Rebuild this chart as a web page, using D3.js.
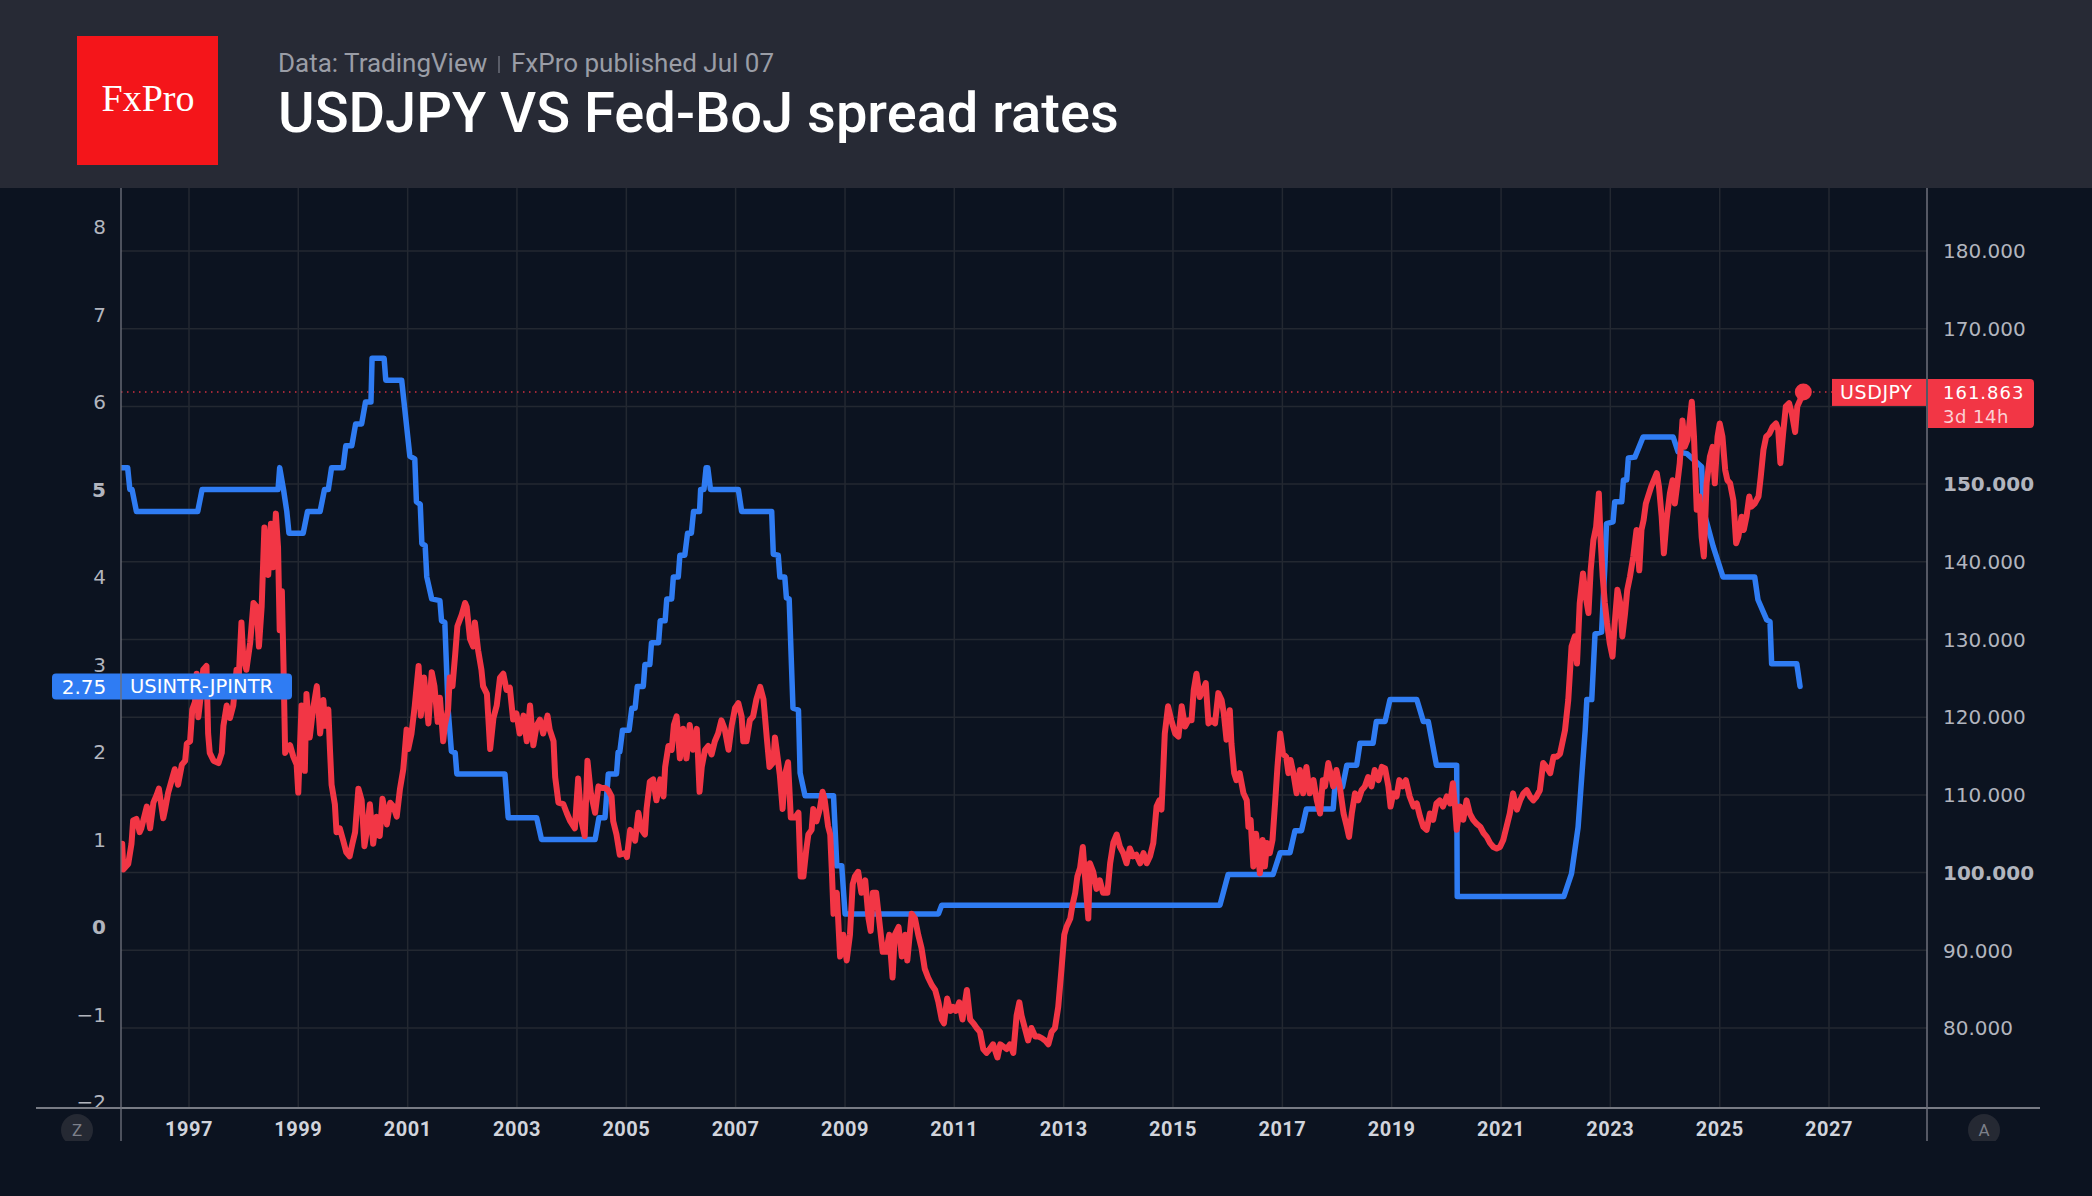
<!DOCTYPE html>
<html>
<head>
<meta charset="utf-8">
<script src="https://cdn.jsdelivr.net/npm/d3@7"></script>
<style>
  html, body { margin: 0; padding: 0; background: #0c1320; }
  svg { display: block; }
</style>
</head>
<body>
<svg id="chart" width="2092" height="1196"></svg>
<script>
// ---- data ----
var yearTicks = [1997, 1999, 2001, 2003, 2005, 2007, 2009, 2011, 2013, 2015, 2017, 2019, 2021, 2023, 2025, 2027];
var spreadTicks = [8, 7, 6, 5, 4, 3, 2, 1, 0, -1, -2];
var priceTicks = [180, 170, 160, 150, 140, 130, 120, 110, 100, 90, 80];
// 160.000 is hidden behind the last-price label in the original
var priceLabels = [180, 170, 150, 140, 130, 120, 110, 100, 90, 80];
var lastSpread = 2.75;
var lastPrice = 161.863;

// USINTR-JPINTR, [decimal year, %]
var spreadData = [
  [1995.78, 5.25], [1995.88, 5.25], [1995.92, 5.0], [1995.96, 5.0], [1996.04, 4.75], [1997.16, 4.75], [1997.24, 5.0],
  [1998.63, 5.0], [1998.66, 5.25], [1998.73, 5.0], [1998.79, 4.75], [1998.83, 4.5], [1999.09, 4.5], [1999.17, 4.75],
  [1999.40, 4.75], [1999.48, 5.0], [1999.55, 5.0], [1999.61, 5.25], [1999.82, 5.25], [1999.87, 5.5], [1999.98, 5.5],
  [2000.05, 5.75], [2000.16, 5.75], [2000.23, 6.0], [2000.33, 6.0], [2000.35, 6.5], [2000.57, 6.5], [2000.60, 6.25],
  [2000.89, 6.25], [2001.04, 5.38], [2001.13, 5.35], [2001.16, 4.86], [2001.23, 4.83], [2001.26, 4.38], [2001.32, 4.36],
  [2001.35, 4.0], [2001.44, 3.75], [2001.59, 3.73], [2001.62, 3.5], [2001.68, 3.48], [2001.74, 2.49], [2001.80, 2.01],
  [2001.87, 1.99], [2001.90, 1.75], [2002.78, 1.75], [2002.84, 1.25], [2003.36, 1.25], [2003.45, 1.0], [2004.43, 1.0],
  [2004.50, 1.25], [2004.61, 1.25], [2004.67, 1.75], [2004.82, 1.75], [2004.85, 2.0], [2004.88, 2.0], [2004.93, 2.25],
  [2005.05, 2.25], [2005.10, 2.5], [2005.16, 2.5], [2005.20, 2.75], [2005.31, 2.75], [2005.34, 3.0], [2005.43, 3.0],
  [2005.46, 3.25], [2005.59, 3.25], [2005.62, 3.5], [2005.71, 3.5], [2005.74, 3.75], [2005.83, 3.75], [2005.86, 4.0],
  [2005.95, 4.0], [2005.98, 4.25], [2006.07, 4.25], [2006.12, 4.5], [2006.19, 4.5], [2006.23, 4.75], [2006.34, 4.75],
  [2006.36, 5.0], [2006.42, 5.0], [2006.46, 5.25], [2006.49, 5.25], [2006.54, 5.0], [2007.05, 5.0], [2007.11, 4.75],
  [2007.66, 4.75], [2007.69, 4.26], [2007.78, 4.25], [2007.81, 4.0], [2007.90, 4.0], [2007.93, 3.76], [2007.98, 3.75],
  [2008.05, 2.5], [2008.15, 2.48], [2008.18, 1.76], [2008.27, 1.5], [2008.79, 1.5], [2008.85, 0.7], [2008.94, 0.7],
  [2009.00, 0.15], [2010.71, 0.15], [2010.77, 0.25], [2015.86, 0.25], [2016.01, 0.6], [2016.83, 0.6], [2016.96, 0.85],
  [2017.14, 0.85], [2017.23, 1.1], [2017.35, 1.1], [2017.44, 1.35], [2017.93, 1.35], [2017.96, 1.6], [2018.10, 1.6],
  [2018.18, 1.85], [2018.36, 1.85], [2018.42, 2.1], [2018.66, 2.1], [2018.72, 2.35], [2018.88, 2.35], [2018.97, 2.6],
  [2019.46, 2.6], [2019.58, 2.35], [2019.67, 2.35], [2019.82, 1.85], [2020.19, 1.85], [2020.20, 0.35], [2022.15, 0.35],
  [2022.29, 0.61], [2022.41, 1.14], [2022.49, 1.83], [2022.54, 2.25], [2022.57, 2.6], [2022.66, 2.6], [2022.72, 3.35],
  [2022.84, 3.37], [2022.90, 4.12], [2022.93, 4.61], [2023.05, 4.63], [2023.08, 4.86], [2023.21, 4.86], [2023.24, 5.11],
  [2023.30, 5.11], [2023.33, 5.36], [2023.45, 5.37], [2023.60, 5.6], [2024.15, 5.6], [2024.24, 5.43], [2024.40, 5.41],
  [2024.67, 5.26], [2024.70, 4.77], [2024.88, 4.35], [2025.06, 4.0], [2025.64, 4.0], [2025.70, 3.74], [2025.86, 3.51],
  [2025.92, 3.49], [2025.95, 3.01], [2026.41, 3.01], [2026.47, 2.75]
];

// USDJPY, [decimal year, price]
var usdjpyData = [
  [1995.78, 103.7], [1995.80, 100.4], [1995.89, 101.1], [1995.95, 103.7], [1995.98, 106.7], [1996.04, 106.9],
  [1996.10, 105.2], [1996.13, 105.7], [1996.23, 108.5], [1996.29, 105.7], [1996.35, 109.0], [1996.41, 110.0],
  [1996.45, 110.8], [1996.53, 107.0], [1996.56, 108.0], [1996.62, 110.3], [1996.68, 111.8], [1996.74, 113.3],
  [1996.80, 111.3], [1996.87, 113.9], [1996.93, 114.4], [1996.96, 116.6], [1997.02, 116.9], [1997.06, 121.0],
  [1997.11, 122.0], [1997.14, 125.6], [1997.17, 120.0], [1997.22, 123.0], [1997.26, 126.1], [1997.32, 126.6],
  [1997.35, 117.9], [1997.38, 115.4], [1997.45, 114.4], [1997.54, 114.1], [1997.60, 115.4], [1997.63, 118.9],
  [1997.69, 121.5], [1997.75, 119.9], [1997.81, 121.5], [1997.87, 126.1], [1997.91, 125.1], [1997.96, 132.2],
  [1997.99, 128.1], [1998.05, 126.1], [1998.12, 129.6], [1998.18, 134.7], [1998.24, 134.2], [1998.28, 129.1],
  [1998.33, 134.2], [1998.38, 144.4], [1998.42, 141.3], [1998.45, 138.3], [1998.50, 144.9], [1998.54, 139.3],
  [1998.59, 146.2], [1998.63, 141.8], [1998.66, 131.2], [1998.70, 136.2], [1998.73, 126.6], [1998.76, 115.4],
  [1998.79, 115.9], [1998.85, 116.4], [1998.91, 114.9], [1998.97, 113.9], [1999.00, 110.3], [1999.06, 121.5],
  [1999.12, 113.1], [1999.15, 123.0], [1999.21, 117.4], [1999.27, 121.0], [1999.34, 124.0], [1999.40, 117.9],
  [1999.46, 122.2], [1999.49, 118.9], [1999.55, 121.0], [1999.58, 115.9], [1999.61, 111.3], [1999.67, 108.8],
  [1999.70, 105.2], [1999.76, 105.7], [1999.82, 104.2], [1999.88, 102.6], [1999.94, 102.1], [1999.99, 103.7],
  [2000.04, 105.2], [2000.10, 110.8], [2000.16, 109.3], [2000.21, 103.4], [2000.25, 105.2], [2000.31, 108.8],
  [2000.37, 103.7], [2000.43, 107.2], [2000.49, 104.7], [2000.54, 109.5], [2000.59, 107.7], [2000.62, 106.2],
  [2000.68, 109.0], [2000.74, 108.5], [2000.80, 107.2], [2000.86, 110.8], [2000.92, 113.3], [2000.98, 118.4],
  [2001.01, 115.9], [2001.07, 117.9], [2001.13, 121.5], [2001.20, 126.6], [2001.24, 120.2], [2001.30, 125.1],
  [2001.38, 119.2], [2001.44, 125.8], [2001.49, 124.0], [2001.55, 119.4], [2001.59, 122.5], [2001.65, 116.9],
  [2001.68, 118.9], [2001.74, 121.0], [2001.77, 125.1], [2001.82, 124.0], [2001.87, 128.1], [2001.91, 131.7],
  [2001.99, 133.2], [2002.05, 134.7], [2002.08, 134.2], [2002.14, 130.1], [2002.20, 129.1], [2002.23, 132.2],
  [2002.29, 128.6], [2002.35, 126.1], [2002.38, 124.0], [2002.45, 123.0], [2002.51, 115.9], [2002.57, 119.9],
  [2002.63, 121.5], [2002.69, 125.1], [2002.75, 125.6], [2002.81, 123.5], [2002.87, 123.8], [2002.93, 119.7],
  [2002.99, 120.5], [2003.05, 117.9], [2003.12, 120.2], [2003.18, 116.9], [2003.24, 121.5], [2003.30, 116.4],
  [2003.36, 118.9], [2003.42, 119.7], [2003.48, 117.9], [2003.56, 120.2], [2003.60, 118.4], [2003.67, 116.9],
  [2003.70, 112.3], [2003.76, 109.0], [2003.85, 108.8], [2003.91, 107.7], [2003.97, 106.7], [2004.06, 105.7],
  [2004.12, 112.1], [2004.18, 106.7], [2004.24, 104.7], [2004.29, 114.4], [2004.35, 110.3], [2004.43, 107.7],
  [2004.49, 111.1], [2004.55, 110.9], [2004.61, 110.9], [2004.67, 110.6], [2004.73, 109.8], [2004.76, 106.6],
  [2004.82, 104.9], [2004.88, 102.3], [2004.98, 102.5], [2005.01, 102.0], [2005.07, 105.5], [2005.13, 104.9],
  [2005.16, 104.1], [2005.22, 107.7], [2005.28, 105.5], [2005.34, 104.9], [2005.37, 108.2], [2005.43, 111.7],
  [2005.49, 112.0], [2005.55, 109.3], [2005.62, 112.0], [2005.68, 109.8], [2005.71, 113.6], [2005.77, 116.3],
  [2005.83, 115.8], [2005.87, 119.0], [2005.92, 120.1], [2005.98, 114.7], [2006.04, 118.5], [2006.10, 114.7],
  [2006.16, 119.0], [2006.22, 115.8], [2006.29, 118.5], [2006.34, 110.4], [2006.38, 113.6], [2006.44, 115.8],
  [2006.50, 116.3], [2006.56, 115.2], [2006.62, 116.9], [2006.68, 117.9], [2006.74, 119.6], [2006.80, 118.5],
  [2006.87, 115.8], [2006.93, 119.0], [2006.99, 121.2], [2007.05, 121.8], [2007.11, 120.1], [2007.14, 116.9],
  [2007.20, 116.9], [2007.26, 119.6], [2007.32, 120.1], [2007.38, 122.3], [2007.45, 123.9], [2007.51, 122.3],
  [2007.57, 117.4], [2007.62, 113.6], [2007.69, 114.2], [2007.72, 117.4], [2007.78, 114.2], [2007.81, 112.5],
  [2007.86, 108.2], [2007.90, 112.5], [2007.96, 114.2], [2008.01, 107.1], [2008.09, 107.1], [2008.15, 107.7],
  [2008.19, 99.5], [2008.24, 99.5], [2008.29, 102.8], [2008.33, 104.9], [2008.39, 105.5], [2008.42, 108.2],
  [2008.48, 106.6], [2008.54, 108.2], [2008.59, 110.4], [2008.63, 109.3], [2008.69, 106.0], [2008.73, 104.9],
  [2008.76, 100.1], [2008.79, 94.7], [2008.85, 97.4], [2008.91, 89.2], [2008.97, 92.0], [2009.03, 88.7],
  [2009.09, 92.0], [2009.14, 98.5], [2009.18, 99.5], [2009.24, 100.1], [2009.30, 97.4], [2009.37, 99.0],
  [2009.43, 94.1], [2009.47, 92.5], [2009.51, 97.4], [2009.57, 97.4], [2009.63, 93.6], [2009.69, 89.8],
  [2009.75, 89.8], [2009.81, 92.0], [2009.87, 86.5], [2009.91, 92.0], [2009.98, 93.0], [2010.04, 89.2],
  [2010.10, 92.0], [2010.14, 88.7], [2010.22, 94.7], [2010.28, 94.1], [2010.34, 92.0], [2010.40, 90.3],
  [2010.46, 87.6], [2010.52, 86.5], [2010.59, 85.5], [2010.65, 84.9], [2010.71, 83.3], [2010.77, 81.1],
  [2010.81, 80.6], [2010.87, 83.8], [2010.93, 82.2], [2010.98, 82.7], [2011.03, 82.2], [2011.09, 83.3],
  [2011.15, 81.1], [2011.23, 84.9], [2011.29, 81.1], [2011.35, 80.6], [2011.41, 80.0], [2011.47, 79.5],
  [2011.53, 77.3], [2011.59, 76.8], [2011.65, 77.3], [2011.71, 77.9], [2011.79, 76.2], [2011.84, 77.9],
  [2011.90, 77.6], [2011.96, 77.3], [2012.02, 77.9], [2012.08, 76.8], [2012.14, 81.6], [2012.19, 83.3],
  [2012.23, 81.6], [2012.29, 80.0], [2012.35, 78.4], [2012.41, 80.0], [2012.48, 78.9], [2012.54, 78.9],
  [2012.60, 78.7], [2012.66, 78.4], [2012.72, 77.9], [2012.78, 79.5], [2012.84, 80.0], [2012.90, 82.7],
  [2012.96, 87.6], [2013.01, 92.0], [2013.05, 93.0], [2013.12, 94.1], [2013.16, 95.8], [2013.21, 97.4],
  [2013.25, 99.5], [2013.30, 100.6], [2013.35, 103.3], [2013.39, 99.5], [2013.45, 94.1], [2013.48, 101.2],
  [2013.54, 100.1], [2013.60, 97.9], [2013.66, 99.0], [2013.72, 97.4], [2013.80, 97.4], [2013.85, 101.2],
  [2013.91, 103.9], [2013.97, 104.9], [2014.03, 103.3], [2014.09, 102.5], [2014.15, 101.2], [2014.21, 103.1],
  [2014.27, 102.1], [2014.33, 102.3], [2014.40, 101.2], [2014.46, 102.5], [2014.52, 101.2], [2014.58, 102.1],
  [2014.64, 103.8], [2014.70, 108.5], [2014.75, 109.3], [2014.79, 108.1], [2014.82, 112.8], [2014.85, 117.9],
  [2014.91, 121.4], [2014.97, 119.6], [2015.04, 117.9], [2015.10, 117.5], [2015.16, 121.4], [2015.22, 118.8],
  [2015.28, 119.6], [2015.34, 119.6], [2015.38, 123.5], [2015.43, 125.6], [2015.49, 122.6], [2015.55, 123.5],
  [2015.60, 124.4], [2015.65, 119.2], [2015.71, 119.6], [2015.77, 119.2], [2015.83, 123.1], [2015.89, 122.2],
  [2015.93, 120.5], [2015.98, 117.1], [2016.04, 120.9], [2016.07, 116.6], [2016.12, 112.8], [2016.16, 111.9],
  [2016.22, 112.8], [2016.29, 110.2], [2016.35, 109.3], [2016.38, 105.9], [2016.42, 106.8], [2016.47, 100.8],
  [2016.52, 105.0], [2016.56, 102.1], [2016.59, 99.9], [2016.64, 104.2], [2016.68, 100.8], [2016.72, 103.8],
  [2016.77, 102.5], [2016.82, 104.2], [2016.87, 109.3], [2016.91, 113.6], [2016.96, 117.9], [2017.01, 115.3],
  [2017.07, 114.9], [2017.11, 112.8], [2017.15, 114.5], [2017.20, 112.8], [2017.26, 110.2], [2017.32, 113.2],
  [2017.38, 110.2], [2017.44, 113.6], [2017.50, 110.2], [2017.57, 111.9], [2017.63, 109.3], [2017.69, 107.6],
  [2017.74, 111.9], [2017.78, 111.1], [2017.84, 114.1], [2017.88, 112.8], [2017.93, 111.1], [2017.99, 113.2],
  [2018.05, 111.1], [2018.12, 107.6], [2018.18, 105.9], [2018.22, 104.6], [2018.27, 107.6], [2018.33, 110.2],
  [2018.39, 109.3], [2018.45, 110.6], [2018.51, 111.1], [2018.57, 112.3], [2018.63, 111.1], [2018.69, 113.2],
  [2018.76, 111.9], [2018.82, 113.6], [2018.88, 113.4], [2018.94, 111.1], [2018.98, 108.5], [2019.03, 110.2],
  [2019.09, 109.8], [2019.14, 111.9], [2019.20, 111.1], [2019.26, 111.9], [2019.33, 109.8], [2019.40, 108.5],
  [2019.46, 108.9], [2019.52, 107.2], [2019.58, 105.9], [2019.64, 105.5], [2019.70, 107.6], [2019.76, 106.8],
  [2019.82, 108.9], [2019.88, 109.3], [2019.94, 108.5], [2020.01, 109.8], [2020.07, 108.9], [2020.12, 111.5],
  [2020.16, 108.5], [2020.19, 105.5], [2020.25, 108.5], [2020.31, 106.8], [2020.37, 109.3], [2020.43, 107.6],
  [2020.49, 106.8], [2020.55, 106.3], [2020.62, 105.9], [2020.68, 105.1], [2020.74, 104.6], [2020.80, 103.8],
  [2020.86, 103.3], [2020.92, 103.1], [2020.98, 103.3], [2021.04, 104.2], [2021.10, 105.9], [2021.16, 107.6],
  [2021.22, 110.2], [2021.29, 108.1], [2021.35, 109.3], [2021.41, 110.2], [2021.47, 110.6], [2021.53, 109.8],
  [2021.59, 109.3], [2021.65, 109.8], [2021.71, 110.6], [2021.77, 114.1], [2021.83, 113.6], [2021.90, 112.8],
  [2021.96, 114.9], [2022.02, 114.9], [2022.08, 115.3], [2022.17, 118.3], [2022.23, 122.2], [2022.29, 129.1],
  [2022.35, 130.4], [2022.39, 126.9], [2022.44, 134.7], [2022.50, 138.5], [2022.55, 135.5], [2022.60, 133.4],
  [2022.64, 138.9], [2022.69, 142.8], [2022.74, 144.5], [2022.79, 148.8], [2022.82, 143.2], [2022.86, 138.1],
  [2022.90, 134.7], [2022.94, 132.1], [2022.99, 129.5], [2023.04, 127.8], [2023.08, 132.1], [2023.13, 136.4],
  [2023.18, 134.7], [2023.22, 130.4], [2023.27, 133.4], [2023.31, 136.4], [2023.36, 138.1], [2023.42, 140.7],
  [2023.48, 144.1], [2023.53, 138.9], [2023.57, 144.1], [2023.61, 145.4], [2023.65, 147.5], [2023.69, 148.4],
  [2023.75, 149.7], [2023.82, 150.9], [2023.85, 151.4], [2023.89, 149.7], [2023.94, 145.8], [2023.98, 141.1],
  [2024.03, 145.4], [2024.09, 148.8], [2024.14, 150.5], [2024.18, 147.5], [2024.22, 149.7], [2024.27, 152.7],
  [2024.32, 158.2], [2024.36, 154.8], [2024.41, 155.7], [2024.44, 157.4], [2024.49, 160.6], [2024.53, 156.1],
  [2024.58, 146.7], [2024.63, 148.4], [2024.67, 143.2], [2024.71, 140.7], [2024.76, 150.1], [2024.82, 153.5],
  [2024.87, 154.8], [2024.91, 150.1], [2024.96, 156.1], [2025.00, 157.8], [2025.05, 156.1], [2025.10, 151.8],
  [2025.14, 150.5], [2025.19, 150.1], [2025.25, 147.9], [2025.30, 142.4], [2025.34, 143.2], [2025.40, 145.8],
  [2025.44, 144.1], [2025.49, 145.8], [2025.54, 148.4], [2025.58, 147.1], [2025.64, 147.5], [2025.71, 148.4],
  [2025.75, 150.9], [2025.80, 154.4], [2025.85, 156.1], [2025.91, 156.5], [2025.97, 157.4], [2026.03, 157.8],
  [2026.07, 157.0], [2026.11, 152.7], [2026.16, 156.5], [2026.21, 160.0], [2026.27, 160.4], [2026.32, 159.1],
  [2026.38, 156.7], [2026.42, 160.0], [2026.47, 160.8], [2026.53, 161.863]
];

// ---- setup ----
var W = 2092, H = 1196;
var headerH = 188;
var plotL = 121, plotR = 1927, plotT = 188, plotB = 1108, widgetB = 1141;
var red = "#f23645", blue = "#2f7cf3";
var axisFont = "'DejaVu Sans', sans-serif";

function toDate(y) {
    var yr = Math.floor(y);
    var start = new Date(yr, 0, 1), end = new Date(yr + 1, 0, 1);
    return new Date(start.getTime() + (y - yr) * (end - start));
}

var svg = d3.select("#chart");

var x = d3.scaleTime()
    .domain([new Date(1997, 0, 1), new Date(2027, 0, 1)])
    .range([189, 1829]);
var yLeft = d3.scaleLinear().domain([-2, 8]).range([1102, 227]);
var yRight = d3.scaleLinear().domain([80, 180]).range([1028, 251]);

svg.append("rect").attr("width", W).attr("height", H).attr("fill", "#0c1320");

// header band
svg.append("rect").attr("width", W).attr("height", headerH).attr("fill", "#272a35");
svg.append("rect").attr("x", 77).attr("y", 36).attr("width", 141).attr("height", 129).attr("fill", "#f4151a");
svg.append("text").attr("x", 148).attr("y", 111)
    .attr("text-anchor", "middle")
    .attr("font-family", "'Liberation Serif', 'DejaVu Serif', serif")
    .attr("font-size", 38).attr("fill", "#fff")
    .text("FxPro");

svg.append("text").attr("x", 278).attr("y", 72)
    .attr("font-family", "Roboto, sans-serif").attr("font-size", 26).attr("fill", "#9a9da6")
    .text("Data: TradingView");
svg.append("line").attr("x1", 499).attr("x2", 499).attr("y1", 56).attr("y2", 73)
    .attr("stroke", "#6c6f7a").attr("stroke-width", 1.5);
svg.append("text").attr("x", 511).attr("y", 72)
    .attr("font-family", "Roboto, sans-serif").attr("font-size", 26).attr("fill", "#9a9da6")
    .text("FxPro published Jul 07");
svg.append("text").attr("x", 278).attr("y", 132)
    .attr("font-family", "Roboto, sans-serif").attr("font-weight", 500)
    .attr("font-size", 56).attr("fill", "#fff")
    .text("USDJPY VS Fed-BoJ spread rates");

// grid
var grid = svg.append("g");
grid.selectAll(".hgrid").data(priceTicks).enter().append("line")
    .attr("x1", plotL).attr("x2", plotR)
    .attr("y1", function (d) { return yRight(d); })
    .attr("y2", function (d) { return yRight(d); })
    .attr("stroke", "#232831").attr("stroke-width", 1.5);
grid.selectAll(".vgrid").data(yearTicks).enter().append("line")
    .attr("x1", function (d) { return x(new Date(d, 0, 1)); })
    .attr("x2", function (d) { return x(new Date(d, 0, 1)); })
    .attr("y1", plotT).attr("y2", plotB)
    .attr("stroke", "#232831").attr("stroke-width", 1.5);

// last price dotted line
svg.append("line")
    .attr("x1", plotL).attr("x2", plotR)
    .attr("y1", yRight(lastPrice)).attr("y2", yRight(lastPrice))
    .attr("stroke", red).attr("stroke-width", 1.5).attr("stroke-dasharray", "1.5,4.5").attr("opacity", 0.85);

// series
svg.append("clipPath").attr("id", "plotClip").append("rect")
    .attr("x", plotL).attr("y", plotT).attr("width", plotR - plotL).attr("height", plotB - plotT);

var plot = svg.append("g").attr("clip-path", "url(#plotClip)");

var spreadLine = d3.line()
    .x(function (d) { return x(toDate(d[0])); })
    .y(function (d) { return yLeft(d[1]); });
var priceLine = d3.line()
    .x(function (d) { return x(toDate(d[0])); })
    .y(function (d) { return yRight(d[1]); });

plot.append("path").datum(spreadData)
    .attr("d", spreadLine)
    .attr("fill", "none").attr("stroke", blue).attr("stroke-width", 5.5)
    .attr("stroke-linejoin", "round").attr("stroke-linecap", "round");
plot.append("path").datum(usdjpyData)
    .attr("d", priceLine)
    .attr("fill", "none").attr("stroke", red).attr("stroke-width", 6)
    .attr("stroke-linejoin", "round").attr("stroke-linecap", "round");

var lastPt = usdjpyData[usdjpyData.length - 1];
plot.append("circle")
    .attr("cx", x(toDate(lastPt[0]))).attr("cy", yRight(lastPt[1]))
    .attr("r", 8.5).attr("fill", red);

// left axis labels
svg.append("clipPath").attr("id", "leftClip").append("rect")
    .attr("x", 0).attr("y", plotT).attr("width", plotL).attr("height", plotB - plotT - 1);
svg.append("g").attr("clip-path", "url(#leftClip)")
    .selectAll("text").data(spreadTicks).enter().append("text")
    .attr("x", 106)
    .attr("y", function (d) { return yLeft(d); })
    .attr("dy", "0.36em")
    .attr("text-anchor", "end")
    .attr("font-family", axisFont).attr("font-size", 20)
    .attr("font-weight", function (d) { return (d === 5 || d === 0) ? "bold" : "normal"; })
    .attr("fill", "#b2b5be")
    .text(function (d) { return d < 0 ? "\u2212" + Math.abs(d) : d; });

// right axis labels
svg.append("g").selectAll("text").data(priceLabels).enter().append("text")
    .attr("x", 1943)
    .attr("y", function (d) { return yRight(d); })
    .attr("dy", "0.36em")
    .attr("font-family", axisFont).attr("font-size", 20)
    .attr("font-weight", function (d) { return (d === 150 || d === 100) ? "bold" : "normal"; })
    .attr("fill", "#b2b5be")
    .text(function (d) { return d3.format(".3f")(d); });

// axis lines
svg.append("line").attr("x1", 36).attr("x2", 2040).attr("y1", plotB).attr("y2", plotB)
    .attr("stroke", "#787b84").attr("stroke-width", 2);

// x axis labels
svg.append("g").selectAll("text").data(yearTicks).enter().append("text")
    .attr("x", function (d) { return x(new Date(d, 0, 1)); })
    .attr("y", 1129).attr("dy", "0.36em")
    .attr("text-anchor", "middle")
    .attr("font-family", "Roboto, sans-serif").attr("font-weight", "bold").attr("font-size", 20)
    .attr("letter-spacing", 0.5)
    .attr("fill", "#d1d4dc")
    .text(function (d) { return d; });

// Z / A buttons
svg.append("clipPath").attr("id", "btnClip").append("rect")
    .attr("x", 0).attr("y", plotB + 2).attr("width", W).attr("height", widgetB - plotB - 2);
var btns = svg.append("g").attr("clip-path", "url(#btnClip)");
[[77, "Z"], [1984, "A"]].forEach(function (b) {
    btns.append("circle").attr("cx", b[0]).attr("cy", 1130).attr("r", 16).attr("fill", "#252933");
    btns.append("text").attr("x", b[0]).attr("y", 1130).attr("dy", "0.36em")
        .attr("text-anchor", "middle").attr("font-family", "Roboto, sans-serif").attr("font-size", 17)
        .attr("fill", "#7d808a").text(b[1]);
});

// spread label (left)
var ys = yLeft(lastSpread);
svg.append("rect").attr("x", 52).attr("y", ys - 13).attr("width", 240).attr("height", 26).attr("rx", 4)
    .attr("fill", blue);
svg.append("text").attr("x", 84).attr("y", ys).attr("dy", "0.36em").attr("text-anchor", "middle")
    .attr("font-family", axisFont).attr("font-size", 20).attr("fill", "#fff").text(lastSpread.toFixed(2));
svg.append("text").attr("x", 130).attr("y", ys).attr("dy", "0.36em")
    .attr("font-family", axisFont).attr("font-size", 19.5).attr("fill", "#fff").text("USINTR-JPINTR");

// price labels (right)
var yp = yRight(lastPrice);
svg.append("rect").attr("x", 1832).attr("y", yp - 13).attr("width", 94).attr("height", 27).attr("fill", red);
svg.append("text").attr("x", 1840).attr("y", yp).attr("dy", "0.36em")
    .attr("font-family", axisFont).attr("font-size", 19).attr("letter-spacing", 0.6)
    .attr("fill", "#fff").text("USDJPY");
svg.append("path")
    .attr("d", "M1928," + (yp - 13) + "h102a4,4 0 0 1 4,4v41a4,4 0 0 1 -4,4h-102z")
    .attr("fill", red);
// price + countdown as one two-line text
var priceTxt = svg.append("text").attr("x", 1943).attr("y", yp + 7)
    .attr("font-family", axisFont).attr("font-size", 18);
priceTxt.append("tspan").attr("x", 1943).attr("letter-spacing", 1)
    .attr("fill", "#fff").text(lastPrice.toFixed(3));
priceTxt.append("tspan").attr("x", 1943).attr("dy", 24).attr("letter-spacing", 0.5)
    .attr("fill", "#fbd0d4").text("3d 14h");

// vertical axis borders
svg.append("line").attr("x1", plotL).attr("x2", plotL).attr("y1", plotT).attr("y2", widgetB)
    .attr("stroke", "#6e717b").attr("stroke-width", 1.5).attr("opacity", 0.9);
svg.append("line").attr("x1", plotR).attr("x2", plotR).attr("y1", plotT).attr("y2", widgetB)
    .attr("stroke", "#6e717b").attr("stroke-width", 1.5);
</script>
</body>
</html>
